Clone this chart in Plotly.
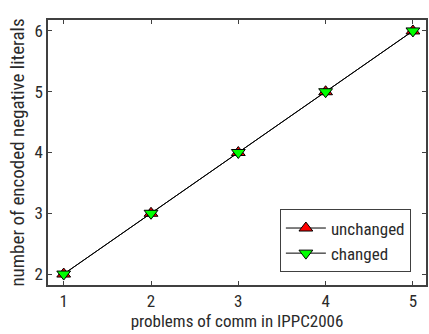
import plotly.graph_objects as go

x_problems = [1, 2, 3, 4, 5]
unchanged = [2, 3, 4, 5, 6]
changed = [2, 3, 4, 5, 6]

FONT = "Roboto Condensed, DejaVu Sans Condensed, sans-serif"
TXT = "#2a2a2a"

fig = go.Figure()
fig.add_trace(go.Scatter(
    x=x_problems, y=unchanged, name="unchanged", mode="lines+markers",
    line=dict(color="black", width=1),
    marker=dict(symbol="triangle-up", size=12, color="#ff0000",
                line=dict(color="black", width=1)),
))
fig.add_trace(go.Scatter(
    x=x_problems, y=changed, name="changed", mode="lines+markers",
    line=dict(color="black", width=1),
    marker=dict(symbol="triangle-down", size=12, color="#00ff00",
                line=dict(color="black", width=1)),
))

axis_common = dict(
    showgrid=False, zeroline=False, showline=True, linecolor="#404040",
    linewidth=1.5, mirror="ticks", ticks="inside", ticklen=4,
    tickcolor="#404040", tickfont=dict(family=FONT, size=17, color=TXT),
)
fig.update_xaxes(range=[0.82, 5.15], tickvals=[1, 2, 3, 4, 5],
                 title=dict(text="problems of comm in IPPC2006", standoff=3,
                            font=dict(family=FONT, size=17, color=TXT)),
                 **axis_common)
fig.update_yaxes(range=[1.82, 6.18], tickvals=[2, 3, 4, 5, 6],
                 title=dict(text="number of encoded negative literals", standoff=5,
                            font=dict(family=FONT, size=19, color=TXT)),
                 **axis_common)

fig.update_layout(
    width=429, height=334,
    margin=dict(l=48, r=1, t=20, b=49),
    paper_bgcolor="white", plot_bgcolor="white",
    showlegend=True,
    legend=dict(x=0.96, y=0.285, xanchor="right", yanchor="top",
                bgcolor="white", bordercolor="#404040", borderwidth=1,
                font=dict(family=FONT, size=17, color=TXT),
                itemwidth=40, tracegroupgap=0),
)

fig.write_html("out.html", post_script="document.body.style.margin='0';",
               config={"displayModeBar": False})
